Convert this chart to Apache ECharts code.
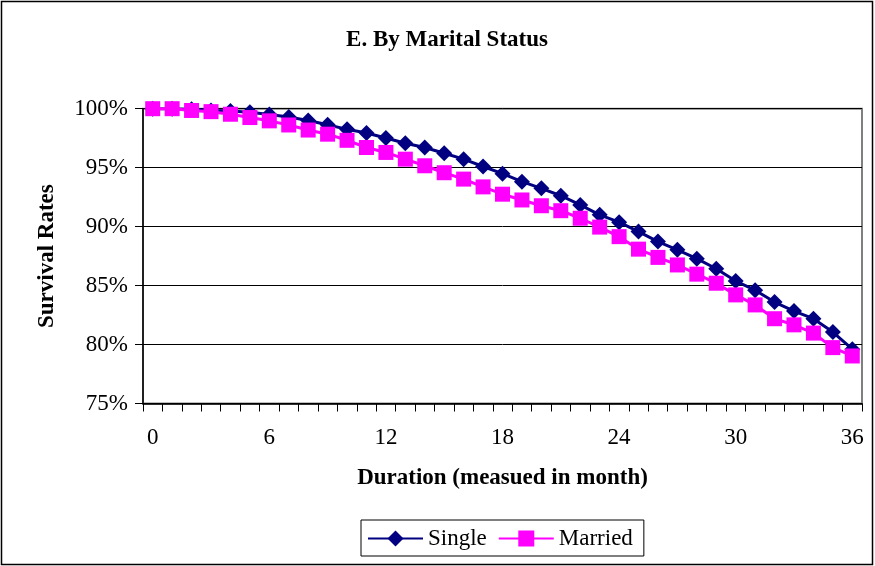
<!DOCTYPE html>
<html>
<head>
<meta charset="utf-8">
<script src="https://cdn.jsdelivr.net/npm/echarts@6/dist/echarts.min.js"></script>
<style>
html,body{margin:0;padding:0;background:#fff;}
#c{width:875px;height:566px;}
</style>
</head>
<body>
<div id="c"></div>
<script>
var months = ['0','1','2','3','4','5','6','7','8','9','10','11','12','13','14','15','16','17','18','19','20','21','22','23','24','25','26','27','28','29','30','31','32','33','34','35','36'];
var single = [100, 100, 99.95, 99.85, 99.8, 99.7, 99.5, 99.3, 99.0, 98.64, 98.25, 97.94, 97.52, 97.07, 96.71, 96.22, 95.72, 95.1, 94.49, 93.81, 93.25, 92.62, 91.84, 91.0, 90.38, 89.58, 88.73, 88.03, 87.28, 86.43, 85.38, 84.61, 83.6, 82.84, 82.19, 81.06, 79.61];
var married = [100, 100, 99.85, 99.75, 99.53, 99.25, 98.97, 98.62, 98.19, 97.84, 97.32, 96.71, 96.29, 95.72, 95.16, 94.57, 94.03, 93.37, 92.75, 92.26, 91.77, 91.35, 90.71, 89.96, 89.15, 88.09, 87.39, 86.75, 85.97, 85.2, 84.21, 83.36, 82.19, 81.67, 80.97, 79.74, 79.03];
var yMin = 75, yMax = 100, yStep = 5;

var F = 'Liberation Serif, Times New Roman, serif';
var chart = echarts.init(document.getElementById('c'), null, {renderer: 'canvas'});
chart.setOption({
  animation: false,
  backgroundColor: '#fff',
  title: {
    text: 'E. By Marital Status',
    left: 442, top: 24, textAlign: 'center',
    textStyle: {fontFamily: F, fontSize: 23, fontWeight: 'bold', color: '#000'}
  },
  graphic: [{
    type: 'rect', silent: true,
    shape: {x: 1.5, y: 1.5, width: 871, height: 563},
    style: {fill: 'none', stroke: '#000', lineWidth: 1.5}
  }],
  grid: {
    left: 143, right: 13, top: 108.7, bottom: 162.5,
    show: true, borderColor: '#808080', borderWidth: 2, backgroundColor: '#fff'
  },
  legend: {
    left: 361, top: 520,
    padding: [7, 11, 6, 6],
    itemGap: 11, itemWidth: 55, itemHeight: 20,
    borderColor: '#000', borderWidth: 1,
    textStyle: {fontFamily: F, fontSize: 23, color: '#000'},
    lineStyle: {width: 2},
    data: ['Single', 'Married']
  },
  xAxis: {
    type: 'category', data: months, boundaryGap: true,
    name: 'Duration (measued in month)', nameLocation: 'middle', nameGap: 63,
    nameTextStyle: {fontFamily: F, fontSize: 23, fontWeight: 'bold', color: '#000'},
    axisLine: {lineStyle: {color: '#000', width: 1.5}},
    axisTick: {show: true, interval: 0, length: 8, lineStyle: {color: '#000'}},
    axisLabel: {interval: 5, margin: 23, fontFamily: F, fontSize: 23, color: '#000'},
    splitLine: {show: false}
  },
  yAxis: {
    type: 'value', min: yMin, max: yMax, interval: yStep,
    name: 'Survival Rates', nameLocation: 'middle', nameGap: 84, nameRotate: 90,
    nameTextStyle: {fontFamily: F, fontSize: 23, fontWeight: 'bold', color: '#000'},
    axisLine: {show: true, lineStyle: {color: '#000', width: 1.5}},
    axisTick: {show: true, length: 8, lineStyle: {color: '#000'}},
    axisLabel: {formatter: '{value}%', margin: 15, fontFamily: F, fontSize: 23, color: '#000'},
    splitLine: {show: true, lineStyle: {color: '#000', width: 1}}
  },
  series: [{
    name: 'Single', type: 'line', data: single,
    symbol: 'diamond', symbolSize: 16, showAllSymbol: true,
    lineStyle: {color: '#000080', width: 3},
    itemStyle: {color: '#000080'},
    z: 2
  }, {
    name: 'Married', type: 'line', data: married,
    symbol: 'rect', symbolSize: 15, showAllSymbol: true,
    lineStyle: {color: '#FF00FF', width: 3},
    itemStyle: {color: '#FF00FF'},
    z: 3
  }]
});
</script>
</body>
</html>
